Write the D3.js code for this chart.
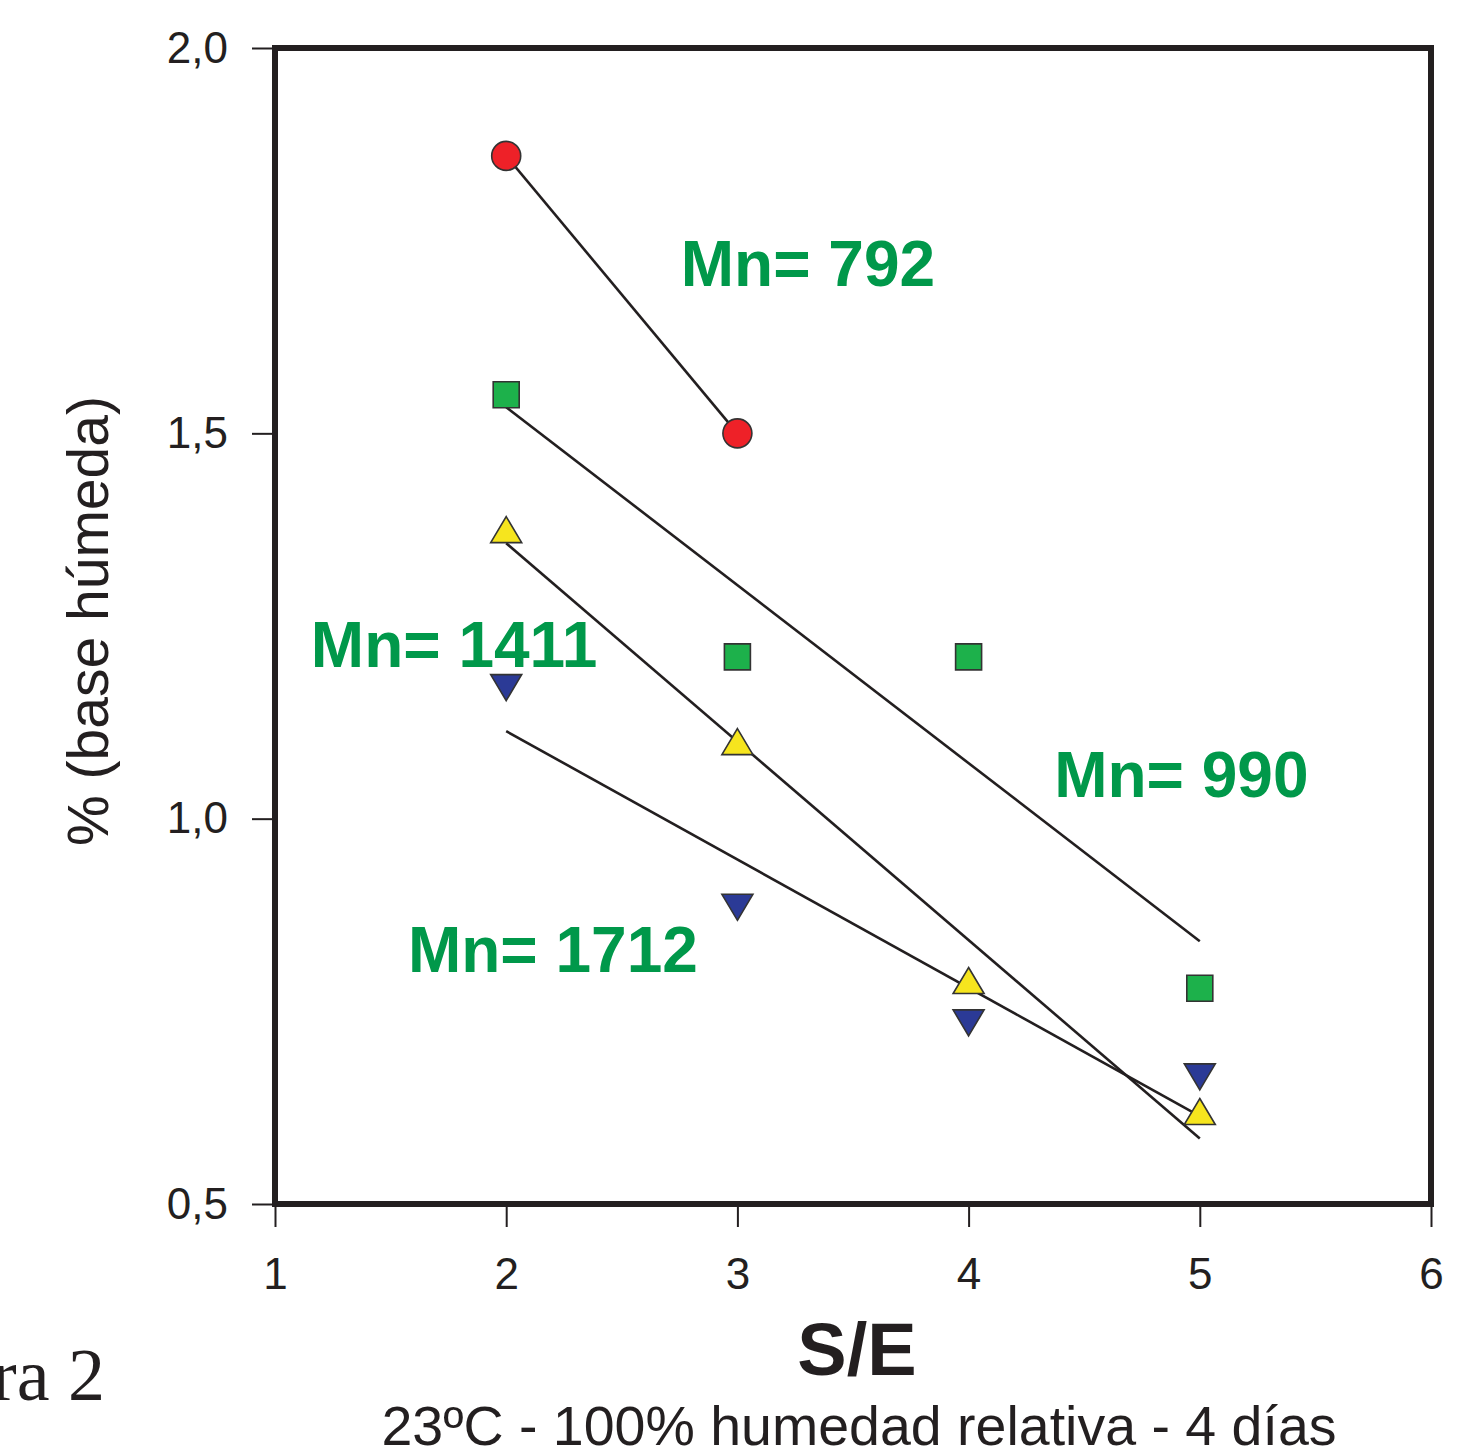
<!DOCTYPE html>
<html>
<head>
<meta charset="utf-8">
<script src="https://cdn.jsdelivr.net/npm/d3@7"></script>
<style>
  body { margin: 0; background: #fff; }
  svg { display: block; }
  text { font-family: "Liberation Sans", Arial, sans-serif; fill: #231f20; }
</style>
</head>
<body>
<svg id="chart"></svg>
<script>
// S/E values
var seValues = [2, 3, 4, 5];

// % (base humeda) per Mn series
var mn792  = [1.86, 1.50];
var mn990  = [1.55, 1.21, 1.21, 0.78];
var mn1411 = [1.375, 1.10, 0.79, 0.62];
var mn1712 = [1.17, 0.885, 0.735, 0.665];

var xTicks = [1, 2, 3, 4, 5, 6];
var yTicks = [0.5, 1.0, 1.5, 2.0];

var labels = [
  {text: "Mn= 792",  x: 2.755, y: 1.691},
  {text: "Mn= 1411", x: 1.155, y: 1.197},
  {text: "Mn= 990",  x: 4.37,  y: 1.028},
  {text: "Mn= 1712", x: 1.575, y: 0.801}
];

var width = 1478;
var height = 1450;

var svg = d3.select("#chart").attr("width", width).attr("height", height);

var x = d3.scaleLinear().domain([1, 6]).range([275, 1431]);
var y = d3.scaleLinear().domain([0.5, 2.0]).range([1204, 48]);

var ink = "#231f20";

// axes
var yAxis = svg.append("g")
    .attr("transform", "translate(" + x(1) + ",0)")
    .call(d3.axisLeft(y).tickValues(yTicks).tickSize(23).tickPadding(24)
      .tickFormat(function(d) { return d3.format(".1f")(d).replace(".", ","); }));
var xAxis = svg.append("g")
    .attr("transform", "translate(0," + y(0.5) + ")")
    .call(d3.axisBottom(x).tickValues(xTicks).tickSize(23).tickPadding(31)
      .tickFormat(d3.format("d")));

[xAxis, yAxis].forEach(function(a) {
  a.select(".domain").remove();
  a.selectAll(".tick line").attr("stroke", ink).attr("stroke-width", 2);
  a.selectAll(".tick text").attr("fill", ink)
    .style("font-family", "'Liberation Sans', Arial, sans-serif")
    .style("font-size", "44px");
});

// frame
svg.append("rect")
    .attr("x", x(1)).attr("y", y(2))
    .attr("width", x(6) - x(1)).attr("height", y(0.5) - y(2))
    .attr("fill", "none").attr("stroke", ink).attr("stroke-width", 6);

// least squares fit
function fit(xs, ys) {
  var mx = d3.mean(xs), my = d3.mean(ys);
  var num = 0, den = 0;
  xs.forEach(function(v, i) { num += (v - mx) * (ys[i] - my); den += (v - mx) * (v - mx); });
  var b = num / den;
  var a = my - b * mx;
  var x0 = d3.min(xs), x1 = d3.max(xs);
  return [[x0, a + b * x0], [x1, a + b * x1]];
}

var series = [
  {vals: mn792,  shape: "circle",  fill: "#ee2128"},
  {vals: mn990,  shape: "square",  fill: "#1db14b"},
  {vals: mn1411, shape: "up",      fill: "#f6e51e"},
  {vals: mn1712, shape: "down",    fill: "#2b3a96"}
];

var lineGen = d3.line().x(function(d) { return x(d[0]); }).y(function(d) { return y(d[1]); });

var lines = svg.append("g");
series.forEach(function(s) {
  var xs = seValues.slice(0, s.vals.length);
  lines.append("path")
      .attr("d", lineGen(fit(xs, s.vals)))
      .attr("fill", "none").attr("stroke", ink).attr("stroke-width", 2.6);
});

function shapePath(shape) {
  if (shape == "circle") return d3.symbol().type(d3.symbolCircle).size(Math.PI * 14.5 * 14.5)();
  if (shape == "square") return "M-13,-13L13,-13L13,13L-13,13Z";
  if (shape == "up") return "M0,-13L15.5,13L-15.5,13Z";
  return "M0,13L15.5,-13L-15.5,-13Z";
}

var marks = svg.append("g");
series.forEach(function(s) {
  marks.selectAll(null)
      .data(s.vals)
      .enter().append("path")
      .attr("d", shapePath(s.shape))
      .attr("transform", function(d, i) { return "translate(" + x(seValues[i]) + "," + y(d) + ")"; })
      .attr("fill", s.fill)
      .attr("stroke", "#333")
      .attr("stroke-width", 1.6);
});

// annotations
svg.append("g").selectAll("text")
    .data(labels)
    .enter().append("text")
    .attr("x", function(d) { return x(d.x); })
    .attr("y", function(d) { return y(d.y); })
    .style("font-weight", "bold")
    .style("font-size", "64px")
    .style("fill", "#00984a")
    .text(function(d) { return d.text; });

// axis titles
svg.append("text")
    .attr("transform", "translate(108,621) rotate(-90)")
    .attr("text-anchor", "middle")
    .style("font-size", "57px")
    .text("% (base húmeda)");

svg.append("text")
    .attr("x", 857).attr("y", 1375)
    .attr("text-anchor", "middle")
    .style("font-size", "74px").style("font-weight", "bold")
    .text("S/E");

svg.append("text")
    .attr("x", 859).attr("y", 1445)
    .attr("text-anchor", "middle")
    .style("font-size", "55.5px")
    .text("23ºC - 100% humedad relativa - 4 días");

svg.append("text")
    .attr("x", 105).attr("y", 1400)
    .attr("text-anchor", "end")
    .style("font-family", "'Liberation Serif', serif")
    .style("font-size", "74px")
    .text("Figura 2");
</script>
</body>
</html>
